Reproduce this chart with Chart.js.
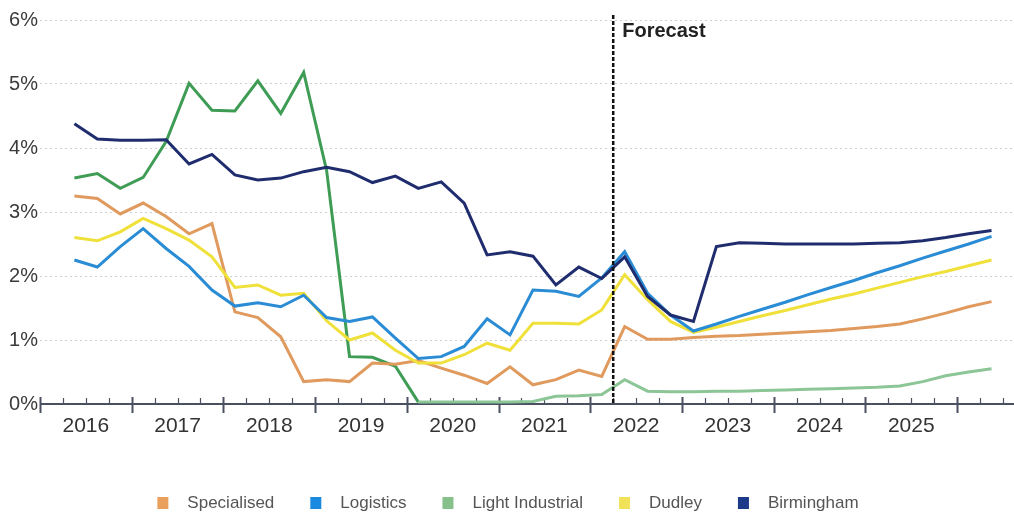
<!DOCTYPE html>
<html>
<head>
<meta charset="utf-8">
<title>Vacancy rate by sector</title>
<script src="https://cdn.jsdelivr.net/npm/chart.js@4.4.1/dist/chart.umd.min.js"></script>
<style>
  html, body { margin: 0; padding: 0; background: #fff; }
  #wrap { width: 1014px; height: 519px; position: relative; }
</style>
</head>
<body>
<div id="wrap"><canvas id="chart"></canvas></div>
<script>
// Quarterly series, Q2 2016 to Q2 2026
const quarters = [
  "2016 Q2", "2016 Q3", "2016 Q4",
  "2017 Q1", "2017 Q2", "2017 Q3", "2017 Q4",
  "2018 Q1", "2018 Q2", "2018 Q3", "2018 Q4",
  "2019 Q1", "2019 Q2", "2019 Q3", "2019 Q4",
  "2020 Q1", "2020 Q2", "2020 Q3", "2020 Q4",
  "2021 Q1", "2021 Q2", "2021 Q3", "2021 Q4",
  "2022 Q1", "2022 Q2", "2022 Q3", "2022 Q4",
  "2023 Q1", "2023 Q2", "2023 Q3", "2023 Q4",
  "2024 Q1", "2024 Q2", "2024 Q3", "2024 Q4",
  "2025 Q1", "2025 Q2", "2025 Q3", "2025 Q4",
  "2026 Q1", "2026 Q2"
];
const years = [2016, 2017, 2018, 2019, 2020, 2021, 2022, 2023, 2024, 2025];
const yTicks = [0, 1, 2, 3, 4, 5, 6];
const forecastFrom = "2022 Q2";

const specialised = [
  3.25, 3.21, 2.97, 3.14, 2.93, 2.66, 2.82, 1.44, 1.35, 1.05,
  0.35, 0.38, 0.35, 0.64, 0.62, 0.68, 0.56, 0.45, 0.32, 0.58,
  0.30, 0.38, 0.53, 0.43, 1.21, 1.01, 1.01, 1.04, 1.06, 1.07,
  1.09, 1.11, 1.13, 1.15, 1.18, 1.21, 1.25, 1.33, 1.42, 1.52, 1.60
];
const logistics = [
  2.25, 2.14, 2.46, 2.74, 2.43, 2.15, 1.78, 1.53, 1.58, 1.52,
  1.70, 1.35, 1.29, 1.36, 1.03, 0.71, 0.74, 0.90, 1.33, 1.08,
  1.78, 1.76, 1.68, 1.97, 2.38, 1.73, 1.39, 1.14, 1.25, 1.37,
  1.48, 1.59, 1.71, 1.82, 1.93, 2.05, 2.16, 2.28, 2.39, 2.50, 2.62
];
const lightIndustrial = [
  3.53, 3.60, 3.37, 3.54, 4.10, 5.01, 4.59, 4.58, 5.05, 4.54,
  5.18, 3.65, 0.74, 0.73, 0.59, 0.03, 0.03, 0.03, 0.03, 0.03,
  0.04, 0.12, 0.13, 0.15, 0.38, 0.20, 0.19, 0.19, 0.20, 0.20,
  0.21, 0.22, 0.23, 0.24, 0.25, 0.26, 0.28, 0.35, 0.44, 0.50, 0.55
];
const dudley = [
  2.60, 2.55, 2.69, 2.90, 2.74, 2.56, 2.30, 1.82, 1.86, 1.70,
  1.73, 1.30, 1.00, 1.11, 0.84, 0.64, 0.64, 0.77, 0.95, 0.84,
  1.26, 1.26, 1.25, 1.47, 2.02, 1.63, 1.29, 1.12, 1.20, 1.29,
  1.38, 1.46, 1.55, 1.64, 1.72, 1.81, 1.90, 1.99, 2.07, 2.16, 2.25
];
const birmingham = [
  4.38, 4.14, 4.12, 4.12, 4.13, 3.75, 3.90, 3.58, 3.50, 3.53,
  3.63, 3.70, 3.63, 3.46, 3.56, 3.37, 3.47, 3.14, 2.33, 2.38,
  2.31, 1.86, 2.14, 1.96, 2.30, 1.68, 1.39, 1.29, 2.46, 2.52,
  2.51, 2.50, 2.50, 2.50, 2.50, 2.51, 2.52, 2.55, 2.60, 2.66, 2.71
];

const FONT = "'Liberation Sans', Arial, sans-serif";

// quarter label -> position in years (middle of the quarter)
function quarterMid(q) {
  const [y, n] = q.split(" Q");
  return Number(y) + (Number(n) - 0.5) / 4;
}
function quarterStart(q) {
  const [y, n] = q.split(" Q");
  return Number(y) + (Number(n) - 1) / 4;
}
function toPoints(values) {
  return values.map((v, i) => ({ x: quarterMid(quarters[i]), y: v }));
}

const series = [
  { label: "Specialised", values: specialised, color: "#e09a5e", key: "#e8a05c", order: 3 },
  { label: "Logistics", values: logistics, color: "#2a8cd4", key: "#1a8ae0", order: 1 },
  { label: "Light Industrial", values: lightIndustrial, color: "#3f9c55", key: "#86c08a", order: 4 },
  { label: "Dudley", values: dudley, color: "#efe03a", key: "#f2e25a", order: 2 },
  { label: "Birmingham", values: birmingham, color: "#1f2d6e", key: "#1d3a8a", order: 0 }
];

// x axis line with quarter and year tick marks
const axisMarks = {
  id: "axisMarks",
  beforeDatasetsDraw(chart) {
    const { ctx, chartArea, scales } = chart;
    const y0 = scales.y.getPixelForValue(0);
    ctx.save();
    ctx.strokeStyle = "#4a5060";
    ctx.lineWidth = 2;
    ctx.beginPath();
    ctx.moveTo(chartArea.left, y0);
    ctx.lineTo(chartArea.right, y0);
    ctx.stroke();
    ctx.lineWidth = 1.5;
    const first = years[0];
    for (let q = 0; first + q / 4 <= scales.x.max; q++) {
      const px = Math.round(scales.x.getPixelForValue(first + q / 4)) + 0.5;
      ctx.beginPath();
      if (q % 4 === 0) {
        ctx.lineWidth = 2;
        ctx.moveTo(px, y0 - 7);
        ctx.lineTo(px, y0 + 9);
      } else {
        ctx.lineWidth = 1.2;
        ctx.moveTo(px, y0 - 6);
        ctx.lineTo(px, y0);
      }
      ctx.stroke();
    }
    ctx.restore();
  }
};

// dashed divider where the forecast begins
const forecastLine = {
  id: "forecastLine",
  afterDatasetsDraw(chart) {
    const { ctx, chartArea, scales } = chart;
    const px = scales.x.getPixelForValue(quarterStart(forecastFrom));
    ctx.save();
    ctx.strokeStyle = "#111";
    ctx.lineWidth = 2.5;
    ctx.setLineDash([4, 2]);
    ctx.beginPath();
    ctx.moveTo(px, chartArea.top - 5);
    ctx.lineTo(px, scales.y.getPixelForValue(0));
    ctx.stroke();
    ctx.setLineDash([]);
    ctx.fillStyle = "#222";
    ctx.font = "bold 20px " + FONT;
    ctx.textAlign = "left";
    ctx.textBaseline = "alphabetic";
    ctx.fillText("Forecast", px + 9, 37);
    ctx.restore();
  }
};

// legend row under the axis
const keyRow = {
  id: "keyRow",
  afterDraw(chart) {
    const { ctx, width } = chart;
    const box = 11, gap = 19, spacing = 36, cy = 503;
    ctx.save();
    ctx.font = "17px " + FONT;
    ctx.textBaseline = "middle";
    ctx.textAlign = "left";
    const widths = series.map(s => ctx.measureText(s.label).width);
    const total = widths.reduce((a, w) => a + box + gap + w, 0) + spacing * (series.length - 1);
    let x = width / 2 + 1 - total / 2;
    series.forEach((s, i) => {
      ctx.fillStyle = s.key;
      ctx.fillRect(x, cy - 6, box, 12);
      ctx.fillStyle = "#555";
      ctx.fillText(s.label, x + box + gap, cy);
      x += box + gap + widths[i] + spacing;
    });
    ctx.restore();
  }
};

const datasets = series.map(s => {
  const ds = {
    label: s.label,
    data: toPoints(s.values),
    borderColor: s.color,
    backgroundColor: s.color,
    borderWidth: 3,
    pointRadius: 0,
    tension: 0,
    order: s.order
  };
  if (s.label === "Light Industrial") {
    // flat low stretch prints paler than the early peaks
    ds.segment = { borderColor: c => (c.p0DataIndex >= 15 ? "#8cc596" : s.color) };
  }
  return ds;
});

new Chart(document.getElementById("chart"), {
  type: "line",
  data: { datasets },
  options: {
    responsive: true,
    maintainAspectRatio: false,
    animation: false,
    layout: { padding: { top: 20, right: 0, bottom: 0, left: 0 } },
    plugins: {
      legend: { display: false },
      tooltip: { enabled: false }
    },
    scales: {
      x: {
        type: "linear",
        min: years[0],
        max: 2026.62,
        grid: { display: false, drawTicks: false },
        border: { display: false },
        afterBuildTicks: scale => { scale.ticks = years.map(y => ({ value: y + 0.5 })); },
        afterFit: scale => { scale.height = 115; },
        ticks: {
          autoSkip: false,
          maxRotation: 0,
          padding: 10,
          color: "#333",
          font: { family: FONT, size: 21 },
          callback: v => String(Math.floor(v))
        }
      },
      y: {
        min: yTicks[0],
        max: yTicks[yTicks.length - 1],
        afterBuildTicks: scale => { scale.ticks = yTicks.map(v => ({ value: v })); },
        afterFit: scale => { scale.width = 40; },
        grid: { color: "#cfcfcf", drawTicks: false, lineWidth: 1 },
        border: { display: false, dash: [2, 3] },
        ticks: {
          padding: 2,
          color: "#3a3a3a",
          font: { family: FONT, size: 20 },
          callback: v => v + "%"
        }
      }
    }
  },
  plugins: [axisMarks, forecastLine, keyRow]
});
</script>
</body>
</html>
